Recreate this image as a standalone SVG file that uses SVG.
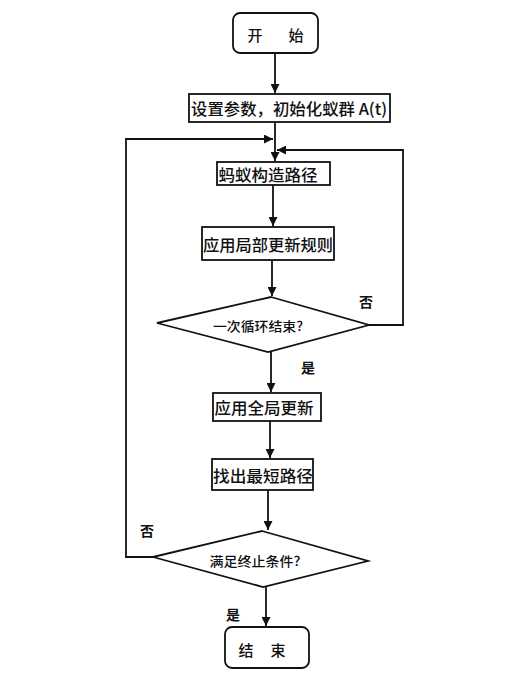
<svg xmlns="http://www.w3.org/2000/svg" width="505" height="674" viewBox="0 0 505 674">
<defs>
<marker id="ah" viewBox="0 0 10 10" refX="10" refY="5" markerWidth="9" markerHeight="9" markerUnits="userSpaceOnUse" orient="auto">
<path d="M0,0 L10,5 L0,10 z" fill="#111"/>
</marker>
</defs>
<style>
.box{fill:#fff;stroke:#111;stroke-width:1.8}
.ln{fill:none;stroke:#111;stroke-width:1.8}
.t{font-family:"Noto Sans CJK SC","Noto Sans CJK JP",sans-serif;fill:#111;dominant-baseline:central;text-anchor:middle;font-weight:500}
.b{font-size:16px}
.s{font-size:13px}
.lb{font-size:14px;font-weight:700}
</style>
<rect width="505" height="674" fill="#fff"/>
<g id="connectors">
<path class="ln" d="M275,53 V93" marker-end="url(#ah)"/>
<path class="ln" d="M275,122 V161" marker-end="url(#ah)"/>
<path class="ln" d="M273,185 V226" marker-end="url(#ah)"/>
<path class="ln" d="M272,260 V296" marker-end="url(#ah)"/>
<path class="ln" d="M271,352 V392" marker-end="url(#ah)"/>
<path class="ln" d="M270,421 V458" marker-end="url(#ah)"/>
<path class="ln" d="M268,490 V530" marker-end="url(#ah)"/>
<path class="ln" d="M266,587 V626" marker-end="url(#ah)"/>
<path class="ln" d="M369,325 H403 V150 H277" marker-end="url(#ah)"/>
<path class="ln" d="M153,557 H126 V139 H273" marker-end="url(#ah)"/>
</g>
<g id="start">
<rect class="box" x="233" y="13" width="85" height="40" rx="7"/>
<text class="t" x="255" y="34" font-size="15">开</text>
<text class="t" x="296" y="34" font-size="15">始</text>
</g>
<g id="init">
<rect class="box" x="189" y="94" width="201" height="28"/>
<text class="t b" x="289" y="108" textLength="196" lengthAdjust="spacingAndGlyphs">设置参数，初始化蚁群 A(t)</text>
</g>
<g id="construct">
<rect class="box" x="217" y="162" width="113" height="23"/>
<text class="t b" x="268" y="174" textLength="99" lengthAdjust="spacingAndGlyphs">蚂蚁构造路径</text>
</g>
<g id="local">
<rect class="box" x="202" y="227" width="132" height="33"/>
<text class="t b" x="268" y="244" textLength="130" lengthAdjust="spacingAndGlyphs">应用局部更新规则</text>
</g>
<g id="dec1">
<polygon class="box" points="271,297 369,325 268,352 157,323"/>
<text class="t s" x="258" y="325" textLength="90" lengthAdjust="spacingAndGlyphs">一次循环结束?</text>
</g>
<g id="global">
<rect class="box" x="213" y="393" width="108" height="28"/>
<text class="t b" x="264" y="407" textLength="99" lengthAdjust="spacingAndGlyphs">应用全局更新</text>
</g>
<g id="shortest">
<rect class="box" x="212" y="459" width="101" height="31"/>
<text class="t b" x="263" y="475" textLength="100" lengthAdjust="spacingAndGlyphs">找出最短路径</text>
</g>
<g id="dec2">
<polygon class="box" points="262,531 368,561 263,587 153,557"/>
<text class="t s" x="255" y="560" textLength="91" lengthAdjust="spacingAndGlyphs">满足终止条件?</text>
</g>
<g id="end">
<rect class="box" x="225" y="627" width="84" height="41" rx="7"/>
<text class="t" x="246" y="649" font-size="15">结</text>
<text class="t" x="278" y="649" font-size="15">束</text>
</g>
<g id="labels">
<text class="t lb" x="366" y="301">否</text>
<text class="t lb" x="308" y="367">是</text>
<text class="t lb" x="147" y="530">否</text>
<text class="t lb" x="233" y="614">是</text>
</g>
</svg>
